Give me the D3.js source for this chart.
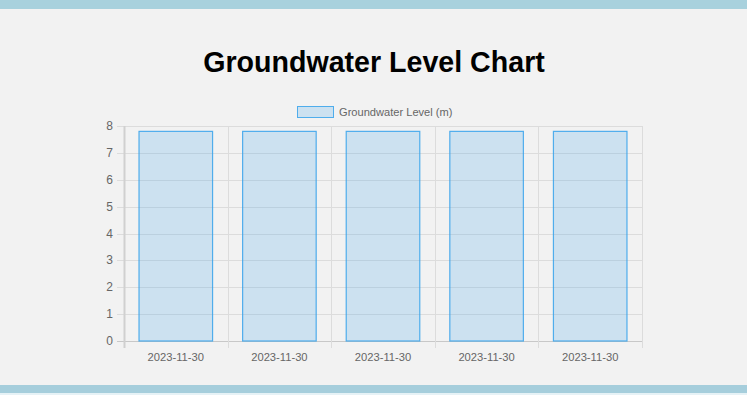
<!DOCTYPE html>
<html>
<head>
<meta charset="utf-8">
<script src="https://cdn.jsdelivr.net/npm/d3@7"></script>
<style>
  html, body { margin: 0; padding: 0; background: #f2f2f2; }
  body { width: 747px; height: 395px; overflow: hidden; }
  svg { display: block; font-family: "Liberation Sans", Arial, Helvetica, sans-serif; }
</style>
</head>
<body>
<script>
var dates = ["2023-11-30", "2023-11-30", "2023-11-30", "2023-11-30", "2023-11-30"];
var levels = [7.8, 7.8, 7.8, 7.8, 7.8];
var yTicks = [0, 1, 2, 3, 4, 5, 6, 7, 8];
var seriesName = "Groundwater Level (m)";

var width = 747,
    height = 395;

var svg = d3.select("body").append("svg")
    .attr("width", width)
    .attr("height", height);

// page bands
svg.append("rect").attr("x", 0).attr("y", 0).attr("width", width).attr("height", 9).attr("fill", "#a8d1dd");
svg.append("rect").attr("x", 0).attr("y", 385).attr("width", width).attr("height", 8).attr("fill", "#a6cedc");
svg.append("rect").attr("x", 0).attr("y", 393).attr("width", width).attr("height", 2).attr("fill", "#e6f2f6");

svg.append("text")
    .attr("x", 374)
    .attr("y", 72)
    .attr("text-anchor", "middle")
    .attr("font-size", 28.6)
    .attr("font-weight", "bold")
    .attr("fill", "#000")
    .text("Groundwater Level Chart");

// legend
svg.append("rect")
    .attr("x", 297.5).attr("y", 106.5)
    .attr("width", 36).attr("height", 11)
    .attr("fill", "rgba(54,162,235,0.2)")
    .attr("stroke", "rgba(54,162,235,0.85)");
svg.append("text")
    .attr("x", 339).attr("y", 116)
    .attr("font-size", 11.1)
    .attr("fill", "#666")
    .text(seriesName);

var pLeft = 124, pRight = 642, pTop = 126, pBottom = 341;

var x = d3.scaleBand()
    .domain(d3.range(dates.length))
    .range([pLeft, pRight])
    .paddingInner(0)
    .paddingOuter(0);

var y = d3.scaleLinear()
    .domain([0, 8])
    .range([pBottom, pTop]);

var g = svg.append("g");

// horizontal grid
g.selectAll(".hgrid")
    .data(yTicks)
  .enter().append("line")
    .attr("x1", pLeft - 7).attr("x2", pRight)
    .attr("y1", function(d) { return Math.round(y(d)) + 0.5; })
    .attr("y2", function(d) { return Math.round(y(d)) + 0.5; })
    .attr("stroke", function(d) { return d == 0 ? "#c8c8c8" : "#dcdcdc"; });

// vertical grid
var xb = d3.range(dates.length + 1).map(function(i) { return pLeft + i * x.bandwidth(); });
g.selectAll(".vgrid")
    .data(xb)
  .enter().append("line")
    .attr("x1", function(d) { return Math.round(d) + 0.5; })
    .attr("x2", function(d) { return Math.round(d) + 0.5; })
    .attr("y1", pTop).attr("y2", pBottom + 7)
    .attr("stroke", function(d, i) { return i == 0 ? "#d0d0d0" : "#dcdcdc"; })
    .attr("stroke-width", function(d, i) { return i == 0 ? 2 : 1; });

// y labels
g.selectAll(".ylab")
    .data(yTicks)
  .enter().append("text")
    .attr("x", 113)
    .attr("y", function(d) { return y(d) + 4; })
    .attr("text-anchor", "end")
    .attr("font-size", 12)
    .attr("fill", "#666")
    .text(function(d) { return d; });

// x labels
g.selectAll(".xlab")
    .data(dates)
  .enter().append("text")
    .attr("x", function(d, i) { return x(i) + x.bandwidth() / 2; })
    .attr("y", 361)
    .attr("text-anchor", "middle")
    .attr("font-size", 11.2)
    .attr("fill", "#666")
    .text(function(d) { return d; });

// bars
var bw = x.bandwidth() * 0.71;
g.selectAll(".bar")
    .data(levels)
  .enter().append("rect")
    .attr("x", function(d, i) { return x(i) + (x.bandwidth() - bw) / 2; })
    .attr("y", function(d) { return y(d); })
    .attr("width", bw)
    .attr("height", function(d) { return pBottom - y(d); })
    .attr("fill", "rgba(54,162,235,0.2)")
    .attr("stroke", "rgba(54,162,235,0.85)")
    .attr("stroke-width", 1.2);
</script>
</body>
</html>
